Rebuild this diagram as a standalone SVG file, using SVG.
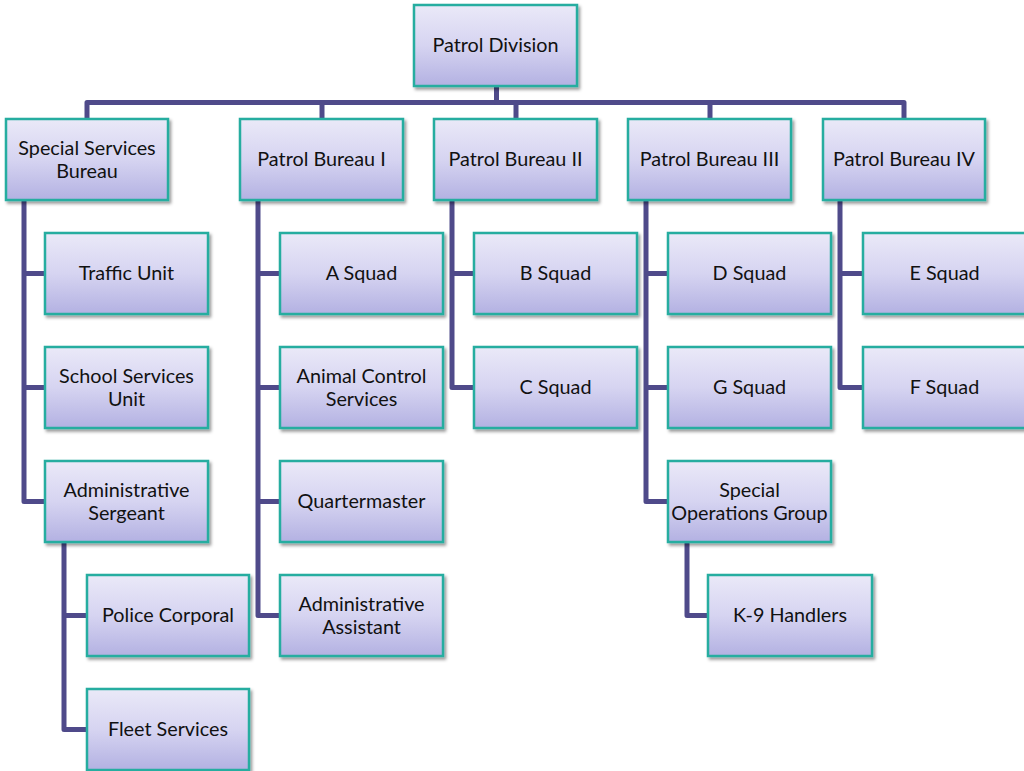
<svg xmlns="http://www.w3.org/2000/svg" width="1024" height="771" viewBox="0 0 1024 771">
<defs>
<linearGradient id="fill" x1="0" y1="0" x2="0" y2="1">
<stop offset="0" stop-color="#eae9f8"/>
<stop offset="0.5" stop-color="#d6d4f1"/>
<stop offset="1" stop-color="#b3b1e2"/>
</linearGradient>
<filter id="sh" x="-10%" y="-10%" width="125%" height="130%">
<feDropShadow dx="2" dy="2.5" stdDeviation="1.5" flood-color="#000" flood-opacity="0.4"/>
</filter>
</defs>
<style>
.box{fill:url(#fill);stroke:#28ada0;stroke-width:2.5;filter:url(#sh)}
.t{font-family:"Lato","Liberation Sans",sans-serif;font-size:19.8px;fill:#111;text-anchor:middle}
.c{fill:none;stroke:#4f4a8a;stroke-width:5;stroke-linejoin:round;stroke-linecap:butt}
</style>
<rect width="1024" height="771" fill="#fff"/>
<g id="connectors">
<path class="c" d="M496.5 86V102.5H87V119"/>
<path class="c" d="M496.5 86V102.5H322V119"/>
<path class="c" d="M496.5 86V102.5H516V119"/>
<path class="c" d="M496.5 86V102.5H710V119"/>
<path class="c" d="M496.5 86V102.5H904V119"/>
<path class="c" d="M24 200V273.5H45M24 200V387.5H45M24 200V501.5H45"/>
<path class="c" d="M64 542V615.5H87M64 542V729.5H87"/>
<path class="c" d="M258 200V273.5H280M258 200V387.5H280M258 200V501.5H280M258 200V615.5H280"/>
<path class="c" d="M452 200V273.5H474M452 200V387.5H474"/>
<path class="c" d="M646 200V273.5H668M646 200V387.5H668M646 200V501.5H668"/>
<path class="c" d="M687 542V615.5H708"/>
<path class="c" d="M840 200V273.5H863M840 200V387.5H863"/>
</g>
<g id="patrol-division"><rect class="box" x="414" y="5" width="163" height="81"/><text class="t" x="495.5" y="52">Patrol Division</text></g>
<g id="special-services-bureau"><rect class="box" x="6" y="119" width="162" height="81"/><text class="t" x="87" y="154.5">Special Services</text><text class="t" x="87" y="178">Bureau</text></g>
<g id="patrol-bureau-1"><rect class="box" x="240" y="119" width="163" height="81"/><text class="t" x="321.5" y="166">Patrol Bureau I</text></g>
<g id="patrol-bureau-2"><rect class="box" x="434" y="119" width="163" height="81"/><text class="t" x="515.5" y="166">Patrol Bureau II</text></g>
<g id="patrol-bureau-3"><rect class="box" x="628" y="119" width="163" height="81"/><text class="t" x="709.5" y="166">Patrol Bureau III</text></g>
<g id="patrol-bureau-4"><rect class="box" x="823" y="119" width="162" height="81"/><text class="t" x="904" y="166">Patrol Bureau IV</text></g>
<g id="traffic-unit"><rect class="box" x="45" y="233" width="163" height="81"/><text class="t" x="126.5" y="280">Traffic Unit</text></g>
<g id="school-services-unit"><rect class="box" x="45" y="347" width="163" height="81"/><text class="t" x="126.5" y="382.5">School Services</text><text class="t" x="126.5" y="406">Unit</text></g>
<g id="administrative-sergeant"><rect class="box" x="45" y="461" width="163" height="81"/><text class="t" x="126.5" y="496.5">Administrative</text><text class="t" x="126.5" y="520">Sergeant</text></g>
<g id="police-corporal"><rect class="box" x="87" y="575" width="162" height="81"/><text class="t" x="168" y="622">Police Corporal</text></g>
<g id="fleet-services"><rect class="box" x="87" y="689" width="162" height="81"/><text class="t" x="168" y="736">Fleet Services</text></g>
<g id="a-squad"><rect class="box" x="280" y="233" width="163" height="81"/><text class="t" x="361.5" y="280">A Squad</text></g>
<g id="animal-control-services"><rect class="box" x="280" y="347" width="163" height="81"/><text class="t" x="361.5" y="382.5">Animal Control</text><text class="t" x="361.5" y="406">Services</text></g>
<g id="quartermaster"><rect class="box" x="280" y="461" width="163" height="81"/><text class="t" x="361.5" y="508">Quartermaster</text></g>
<g id="administrative-assistant"><rect class="box" x="280" y="575" width="163" height="81"/><text class="t" x="361.5" y="610.5">Administrative</text><text class="t" x="361.5" y="634">Assistant</text></g>
<g id="b-squad"><rect class="box" x="474" y="233" width="163" height="81"/><text class="t" x="555.5" y="280">B Squad</text></g>
<g id="c-squad"><rect class="box" x="474" y="347" width="163" height="81"/><text class="t" x="555.5" y="394">C Squad</text></g>
<g id="d-squad"><rect class="box" x="668" y="233" width="163" height="81"/><text class="t" x="749.5" y="280">D Squad</text></g>
<g id="g-squad"><rect class="box" x="668" y="347" width="163" height="81"/><text class="t" x="749.5" y="394">G Squad</text></g>
<g id="special-operations-group"><rect class="box" x="668" y="461" width="163" height="81"/><text class="t" x="749.5" y="496.5">Special</text><text class="t" x="749.5" y="520">Operations Group</text></g>
<g id="k9-handlers"><rect class="box" x="708" y="575" width="164" height="81"/><text class="t" x="790" y="622">K-9 Handlers</text></g>
<g id="e-squad"><rect class="box" x="863" y="233" width="163" height="81"/><text class="t" x="944.5" y="280">E Squad</text></g>
<g id="f-squad"><rect class="box" x="863" y="347" width="163" height="81"/><text class="t" x="944.5" y="394">F Squad</text></g>
</svg>
